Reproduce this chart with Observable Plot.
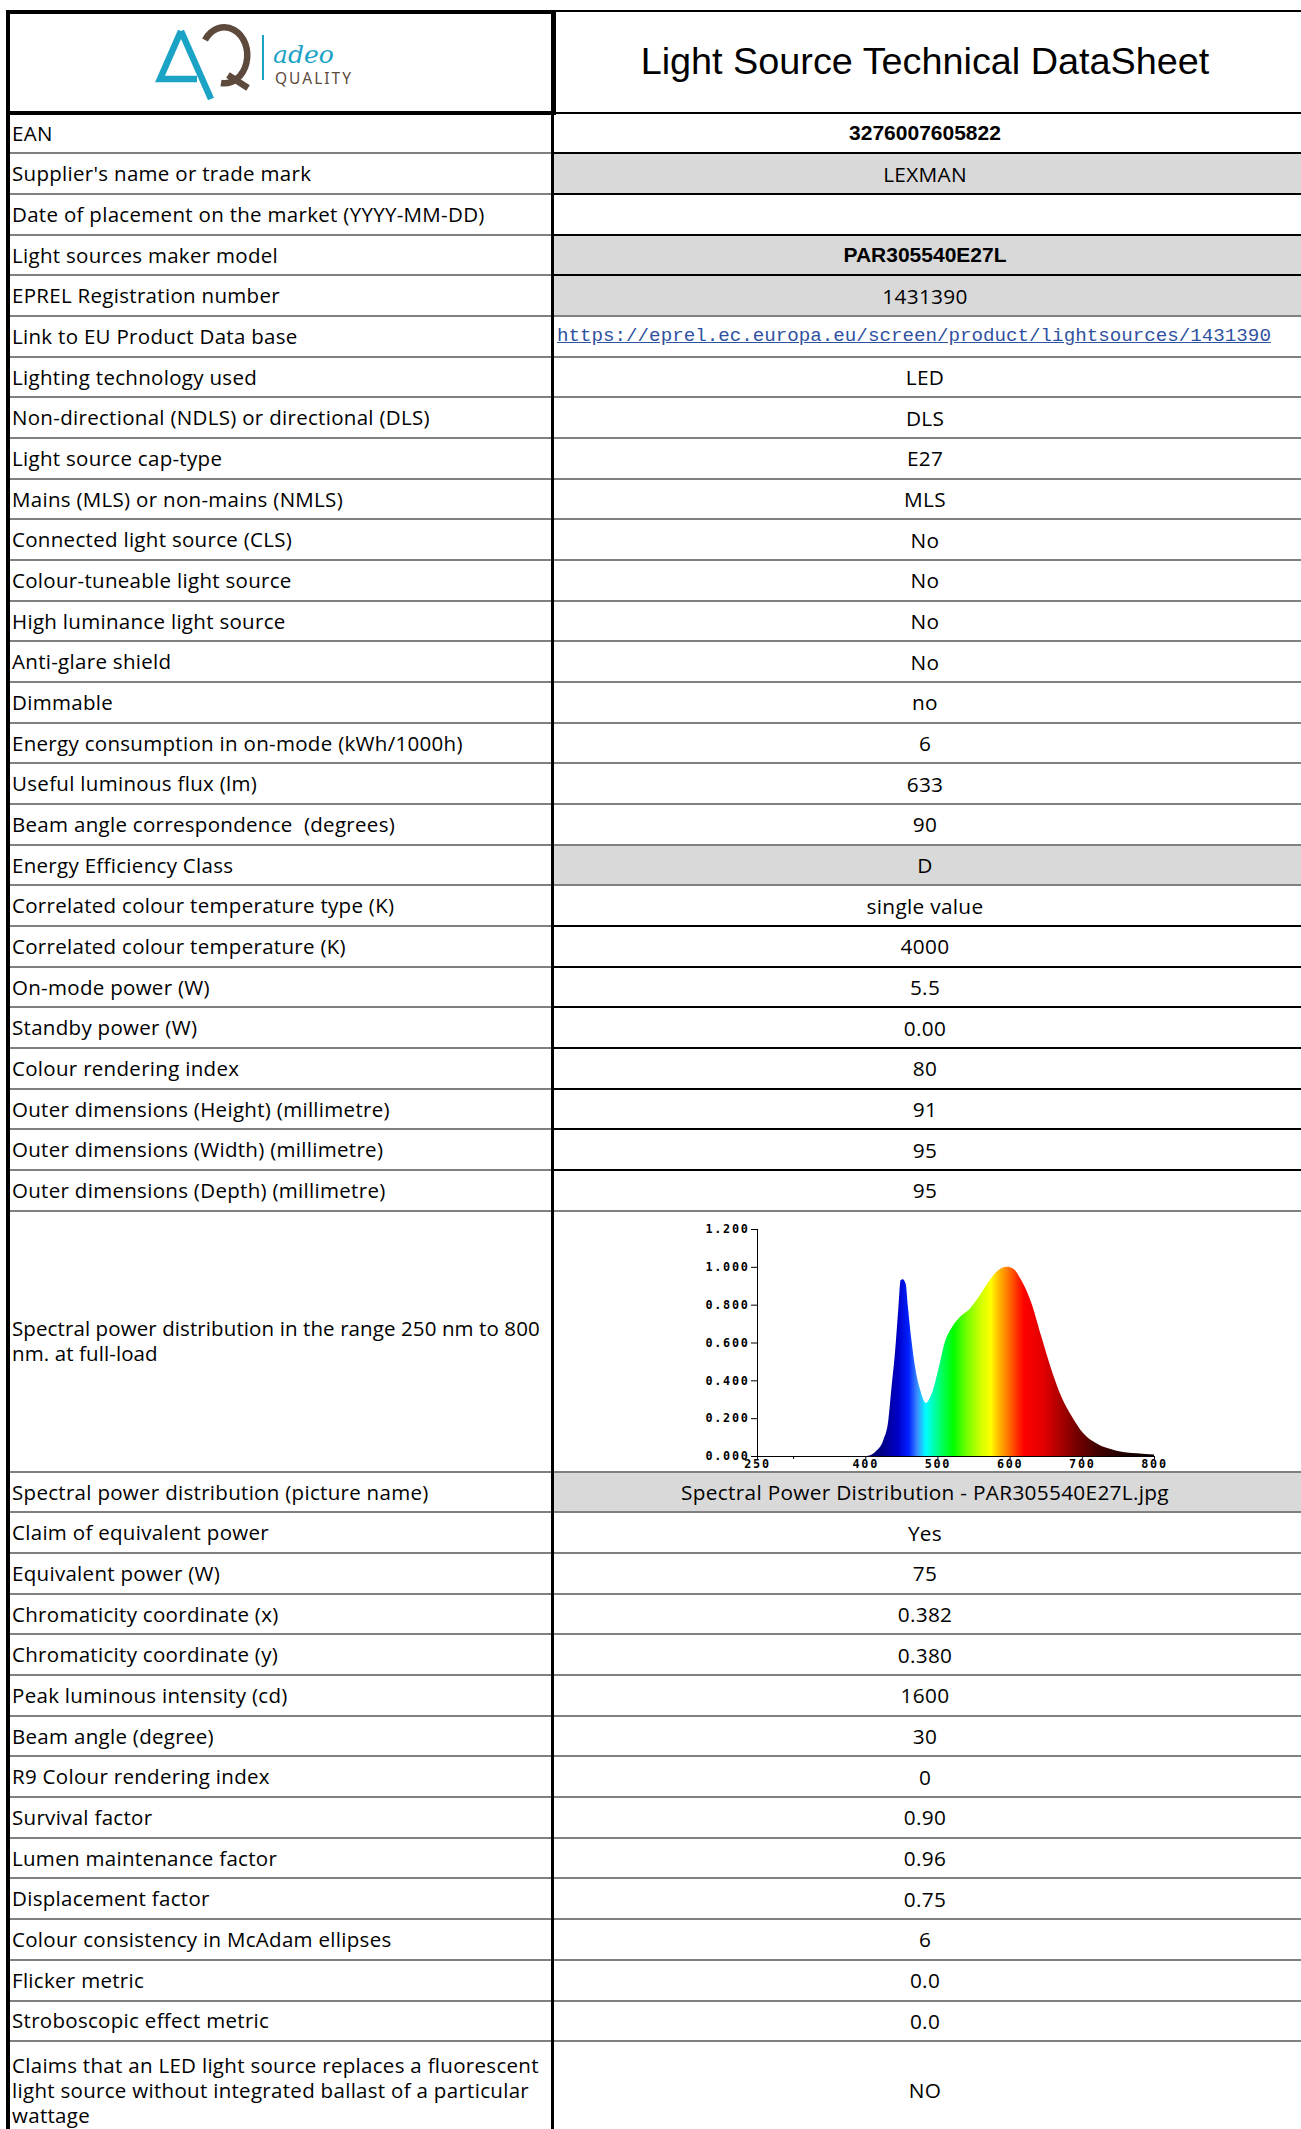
<!DOCTYPE html>
<html><head><meta charset="utf-8">
<script src="https://cdn.jsdelivr.net/npm/d3@7"></script>
<script src="https://cdn.jsdelivr.net/npm/@observablehq/plot@0.6"></script>
<style>
html,body{margin:0;padding:0;background:#fff;}
body{width:1301px;height:2129px;overflow:hidden;position:relative;font-family:"Open Sans","Noto Sans",sans-serif;color:#000;}
.ln{position:absolute;}
.lab{position:absolute;left:12px;width:538px;display:flex;align-items:center;font-size:20.5px;letter-spacing:0.3px;line-height:25px;white-space:nowrap;}
.lab.tight{letter-spacing:0.1px;}
.val{position:absolute;left:555px;width:740px;display:flex;align-items:center;justify-content:center;font-size:20.8px;letter-spacing:0.3px;white-space:nowrap;}
.val.bold{font-family:"Liberation Sans",Arial,sans-serif;font-weight:bold;font-size:21px;letter-spacing:0;}
.val.link{justify-content:flex-start;left:557px;font-family:"Liberation Mono",monospace;font-size:19.2px;letter-spacing:0;color:#2f52a0;text-decoration:underline;}
#chart svg text{font-weight:bold;letter-spacing:1.7px;}
</style>
</head><body>
<div id="root"></div>
<script>
// ---------- data ----------
const rowLabels = [
  "EAN",
  "Supplier's name or trade mark",
  "Date of placement on the market (YYYY-MM-DD)",
  "Light sources maker model",
  "EPREL Registration number",
  "Link to EU Product Data base",
  "Lighting technology used",
  "Non-directional (NDLS) or directional (DLS)",
  "Light source cap-type",
  "Mains (MLS) or non-mains (NMLS)",
  "Connected light source (CLS)",
  "Colour-tuneable light source",
  "High luminance light source",
  "Anti-glare shield",
  "Dimmable",
  "Energy consumption in on-mode (kWh/1000h)",
  "Useful luminous flux (lm)",
  "Beam angle correspondence \u00a0(degrees)",
  "Energy Efficiency Class",
  "Correlated colour temperature type (K)",
  "Correlated colour temperature (K)",
  "On-mode power (W)",
  "Standby power (W)",
  "Colour rendering index",
  "Outer dimensions (Height) (millimetre)",
  "Outer dimensions (Width) (millimetre)",
  "Outer dimensions (Depth) (millimetre)",
  "Spectral power distribution in the range 250 nm to 800<br>nm. at full-load",
  "Spectral power distribution (picture name)",
  "Claim of equivalent power",
  "Equivalent power (W)",
  "Chromaticity coordinate (x)",
  "Chromaticity coordinate (y)",
  "Peak luminous intensity (cd)",
  "Beam angle (degree)",
  "R9 Colour rendering index",
  "Survival factor",
  "Lumen maintenance factor",
  "Displacement factor",
  "Colour consistency in McAdam ellipses",
  "Flicker metric",
  "Stroboscopic effect metric",
  "Claims that an LED light source replaces a fluorescent<br>light source without integrated ballast of a particular<br>wattage"
];
const rowValues = [
  "3276007605822","LEXMAN","","PAR305540E27L","1431390",
  "https://eprel.ec.europa.eu/screen/product/lightsources/1431390",
  "LED","DLS","E27","MLS","No","No","No","No","no","6","633","90","D",
  "single value","4000","5.5","0.00","80","91","95","95",
  "",
  "Spectral Power Distribution - PAR305540E27L.jpg",
  "Yes","75","0.382","0.380","1600","30","0","0.90","0.96","0.75","6","0.0","0.0","NO"
];
const boldRows = [0, 3];
const linkRows = [5];
const shadedRows = [1, 3, 4, 18, 28];
const blackRightBorders = [1, 2, 3, 4, 20, 21, 22, 23, 24, 25, 26];
const chartRow = 27;

// spectral power distribution (relative)
const wavelength = [250,300,350,400,402,416,425,432,436,441,446,449,452,456,459,464,469,476,484,492,501,510,520,531,545,556,568,582,596,605,616,630,644,658,672,686,702,720,748,776,800];
const relPower   = [0,0,0,0,0,0.03,0.085,0.19,0.35,0.54,0.79,0.93,0.935,0.91,0.79,0.61,0.47,0.35,0.28,0.33,0.455,0.6,0.68,0.735,0.78,0.835,0.905,0.975,1.0,0.99,0.93,0.81,0.63,0.455,0.31,0.21,0.12,0.067,0.028,0.014,0.008];
const xTicks = [250,300,400,500,600,700,800];
const yTicks = [0,0.2,0.4,0.6,0.8,1.0,1.2];

// ---------- layout ----------
const root = document.getElementById("root");
const ROW = 40.67, TOP0 = 112.7;
const rowTop = [], rowH = [];
let y = TOP0;
for (let i = 0; i < rowLabels.length; i++) {
  const h = i === chartRow ? 261 : (i === rowLabels.length - 1 ? 98 : ROW);
  rowTop.push(y); rowH.push(h); y += h;
}
function box(x, y, w, h, bg, cls) {
  const d = document.createElement("div");
  d.className = cls || "ln";
  d.style.left = x + "px"; d.style.top = y + "px";
  d.style.width = w + "px"; d.style.height = h + "px";
  if (bg) d.style.background = bg;
  root.appendChild(d); return d;
}
// shading
shadedRows.forEach(i => box(554, rowTop[i], 747, rowH[i], "#d9d9d9"));
// row borders
for (let i = 1; i < rowLabels.length; i++) {
  const yy = rowTop[i] - 1;
  box(8, yy, 544, 2, "#808080");
  box(554, yy, 747, 2, blackRightBorders.includes(i) ? "#000" : "#808080");
}
// texts
rowLabels.forEach((t, i) => {
  const d = document.createElement("div");
  d.className = "lab" + (i === chartRow ? " tight" : "");
  d.innerHTML = t;
  d.style.top = rowTop[i] + "px"; d.style.height = rowH[i] + "px";
  root.appendChild(d);
  const v = document.createElement("div");
  v.className = "val" + (boldRows.includes(i) ? " bold" : "") + (linkRows.includes(i) ? " link" : "");
  v.textContent = rowValues[i];
  v.style.top = rowTop[i] + "px"; v.style.height = rowH[i] + "px";
  root.appendChild(v);
});
// header frames
box(6, 9.5, 549.5, 4.5, "#000");
box(6, 110.5, 549.5, 4, "#000");
box(551, 9.5, 4.5, 105, "#000");
box(555, 9.5, 746, 2.5, "#000");
box(555, 111.5, 746, 2.5, "#000");
// outer left border and column divider
box(6, 9.5, 4, 2130, "#000");
box(551, 9.5, 3.2, 2130, "#000");

// title
const title = box(555, 12, 740, 99, null, "ln");
title.style.display = "flex"; title.style.alignItems = "center"; title.style.justifyContent = "center";
title.style.fontFamily = "'Liberation Sans',Arial,sans-serif"; title.style.fontSize = "37.8px";
title.textContent = "Light Source Technical DataSheet";

// logo
const logo = document.createElementNS("http://www.w3.org/2000/svg", "svg");
logo.setAttribute("width", 1301); logo.setAttribute("height", 115);
logo.style.position = "absolute"; logo.style.left = "0"; logo.style.top = "0";
logo.innerHTML = `
 <g fill="none" stroke-linecap="butt">
  <path d="M181 31 L160 79 L197 79 M181 31 L211 99" stroke="#1ba3c6" stroke-width="6.5" stroke-linejoin="miter"/>
  <path d="M205 40 A23 28 0 1 1 221 83" stroke="#5d4a3c" stroke-width="6.5"/>
  <path d="M228 75 L248 88" stroke="#5d4a3c" stroke-width="6.5"/>
  <path d="M263 35 L263 80" stroke="#1ba3c6" stroke-width="2"/>
 </g>
 <text x="273" y="63" font-family="DejaVu Serif" font-style="italic" font-size="25" fill="#1ba3c6">adeo</text>
 <text x="275" y="84" font-family="Noto Sans" font-size="15.5" letter-spacing="2" fill="#5d4a3c">QUALITY</text>`;
root.appendChild(logo);

// ---------- chart ----------
const spec = wavelength.map((w, i) => ({nm: w, p: relPower[i]}));
const chart = Plot.plot({
  width: 746, height: 258,
  marginLeft: 202, marginRight: 147, marginTop: 17, marginBottom: 14,
  style: {fontFamily: "'DejaVu Sans Mono',monospace", fontSize: "11.8px", color: "#000", background: "transparent", overflow: "visible"},
  x: {domain: [250, 800]},
  y: {domain: [0, 1.2]},
  marks: [
    Plot.areaY(spec, {x: "nm", y: "p", fill: "url(#spd-grad)", curve: "monotone-x"}),
    Plot.axisY({ticks: yTicks, tickFormat: d3.format(".3f"), tickSize: 6, tickPadding: 2, label: null}),
    Plot.axisX({ticks: xTicks, tickFormat: d => d === 300 ? "" : String(d), tickSize: 3, tickPadding: 0, label: null}),
    Plot.ruleX([250], {stroke: "#000"}),
    Plot.ruleY([0], {stroke: "#000"})
  ]
});
const xs = chart.scale("x");
const stops = [
  [400,"#000060"],[425,"#00008c"],[445,"#0000c8"],[460,"#0020ff"],[472,"#3c8cff"],
  [484,"#00ffff"],[495,"#00ffb0"],[508,"#00ff50"],[522,"#00ff00"],[540,"#70ff00"],
  [560,"#d0ff00"],[574,"#ffff00"],[584,"#ffc000"],[596,"#ff8000"],[610,"#ff3000"],
  [620,"#ff0000"],[648,"#e00000"],[668,"#b00000"],[695,"#700000"],[722,"#420000"],
  [760,"#1c0000"],[800,"#080000"]
];
const sel = d3.select(chart);
const grad = sel.insert("defs", ":first-child").append("linearGradient")
  .attr("id", "spd-grad").attr("gradientUnits", "userSpaceOnUse")
  .attr("x1", xs.apply(250)).attr("x2", xs.apply(800)).attr("y1", 0).attr("y2", 0);
stops.forEach(([w, c]) => grad.append("stop").attr("offset", (w - 250) / 550).attr("stop-color", c));
const holder = document.createElement("div");
holder.id = "chart";
holder.style.position = "absolute"; holder.style.left = "555px"; holder.style.top = (rowTop[chartRow] + 1) + "px";
holder.appendChild(chart);
root.appendChild(holder);
</script>
</body></html>
